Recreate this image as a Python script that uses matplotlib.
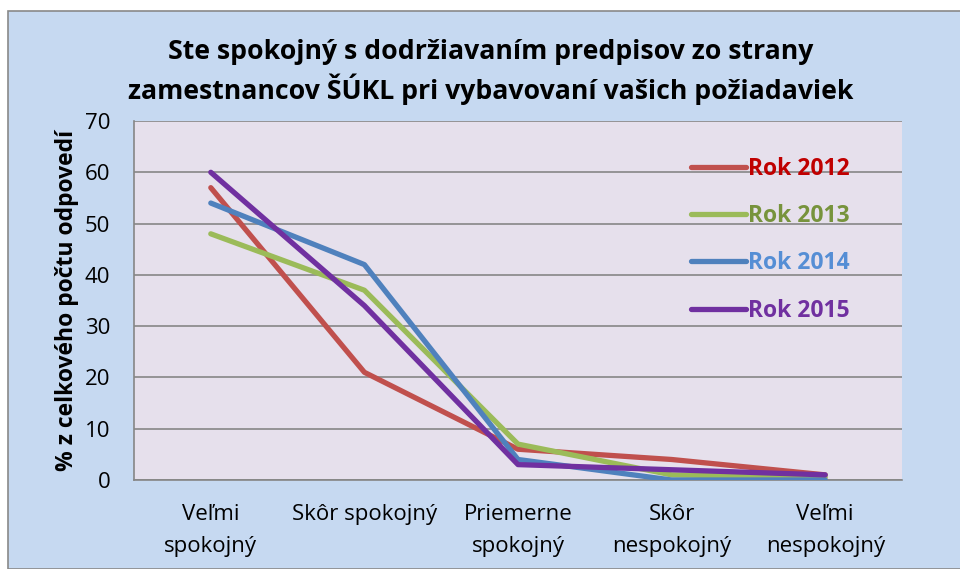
import matplotlib
matplotlib.use("Agg")
import matplotlib.pyplot as plt
from matplotlib.patches import Rectangle

categories = ["Veľmi\nspokojný", "Skôr spokojný", "Priemerne\nspokojný", "Skôr\nnespokojný", "Veľmi\nnespokojný"]
series_names = ["Rok 2012", "Rok 2013", "Rok 2014", "Rok 2015"]
rok2012 = [57, 21, 6, 4, 1]
rok2013 = [48, 37, 7, 1, 0.5]
rok2014 = [54, 42, 4, 0, 0]
rok2015 = [60, 34, 3, 2, 1]
yticks = [0, 10, 20, 30, 40, 50, 60, 70]
title = "Ste spokojný s dodržiavaním predpisov zo strany\nzamestnancov ŠÚKL pri vybavovaní vašich požiadaviek"
ylabel = "% z celkového počtu odpovedí"

line_colors = ["#C0504D", "#9BBB59", "#4F81BD", "#7030A0"]
text_colors = ["#C00000", "#77933C", "#558ED5", "#7030A0"]

plt.rcParams['font.family'] = ['Open Sans', 'DejaVu Sans']

fig = plt.figure(figsize=(9.6, 5.69), dpi=100)
fig.patch.set_facecolor("white")
bg = Rectangle((8/960, 0), 1 - 8/960 + 0.01, 1 - 11/569, transform=fig.transFigure,
               facecolor="#C6D9F1", edgecolor="#898989", linewidth=1.2, zorder=-10)
fig.patches.append(bg)

ax = fig.add_axes([134/960, 1 - 480/569, (902 - 134)/960, (480 - 121)/569])
ax.set_zorder(1)
ax.set_facecolor("#E6E0EC")

x = list(range(len(categories)))
for vals, c, name in zip([rok2012, rok2013, rok2014, rok2015], line_colors, series_names):
    ax.plot(x, vals, color=c, linewidth=3.8, solid_capstyle="round", solid_joinstyle="round", label=name, zorder=3)

ax.set_xlim(-0.5, len(categories) - 0.5)
ax.set_ylim(0, 70)
ax.set_yticks(yticks)
ax.set_yticklabels([str(v) for v in yticks], fontsize=16)
ax.set_xticks(x)
ax.set_xticklabels(categories, fontsize=16, linespacing=1.7, va="top")
ax.tick_params(axis="both", length=0)
ax.tick_params(axis="x", pad=17)
ax.tick_params(axis="y", pad=17)
ax.grid(axis="y", color="#868686", linewidth=1.2, zorder=1)
ax.set_axisbelow(True)
for s in ["top", "right"]:
    ax.spines[s].set_visible(False)
for s in ["left", "bottom"]:
    ax.spines[s].set_color("#868686")
    ax.spines[s].set_linewidth(1.2)

ax.set_ylabel(ylabel, fontsize=16.5, fontweight="bold", labelpad=4)

leg = ax.legend(loc="upper left", bbox_to_anchor=(0.698, 0.958), frameon=False,
                handlelength=2.4, handletextpad=0.1, labelspacing=1.02,
                labelcolor=text_colors, prop={"weight": "bold", "size": 16.5})

fig.text(0.511, 1 - 72/569, title, ha="center", va="center", fontsize=19.2, fontweight="bold",
         linespacing=1.3)

fig.savefig("out.png", dpi=100)
